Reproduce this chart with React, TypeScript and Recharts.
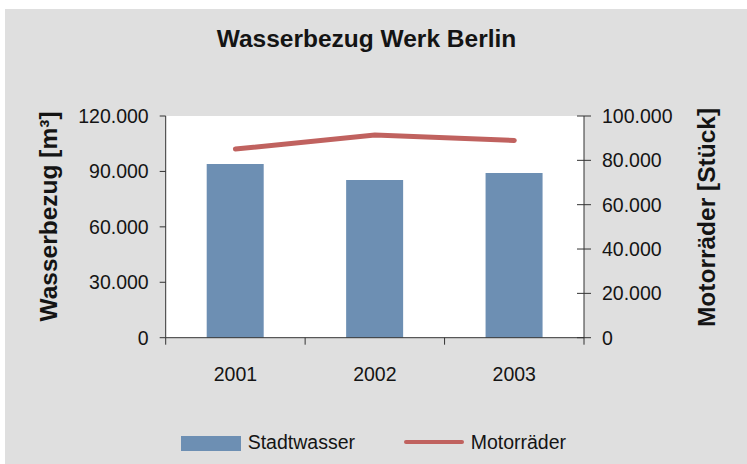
import React from 'react'
import {
  ComposedChart,
  Bar,
  Line,
  XAxis,
  YAxis,
  CartesianGrid,
} from 'recharts'

const YEARS = ['2001', '2002', '2003']
const STADTWASSER = [94000, 85400, 89100]
const MOTORRAEDER = [85100, 91400, 89000]
const LEFT_TICKS = [0, 30000, 60000, 90000, 120000]
const RIGHT_TICKS = [0, 20000, 40000, 60000, 80000, 100000]

const BAR_COLOR = '#6d8fb3'
const LINE_COLOR = '#c0625f'
const AXIS_COLOR = '#333'
const TEXT_COLOR = '#141414'
const FONT = '"Liberation Sans", Arial, sans-serif'

const W = 742
const H = 455
const LEFT_W = 160.7
const RIGHT_W = 163
const PLOT_W = W - LEFT_W - RIGHT_W

const data = YEARS.map((year, i) => ({
  year,
  stadtwasser: STADTWASSER[i],
  motorraeder: MOTORRAEDER[i],
}))

// 120000 -> "120.000"
const fmt = (v: number) => String(v).replace(/\B(?=(\d{3})+(?!\d))/g, '.')

const XTick = (props: any) => {
  const { x, y, payload, index } = props
  const axisY = y - 29
  const band = PLOT_W / YEARS.length
  return (
    <g>
      <line x1={x - band / 2} x2={x - band / 2} y1={axisY} y2={axisY + 7} stroke={AXIS_COLOR} />
      {index === YEARS.length - 1 && (
        <line x1={x + band / 2} x2={x + band / 2} y1={axisY} y2={axisY + 7} stroke={AXIS_COLOR} />
      )}
      <text x={x} y={axisY + 43} textAnchor="middle" fontSize={19.5} fill={TEXT_COLOR}>
        {payload.value}
      </text>
    </g>
  )
}

const RightTick = (props: any) => {
  const { x, y, payload } = props
  const axisX = x - 18
  return (
    <g>
      <line x1={axisX - 7} x2={axisX + 7} y1={y} y2={y} stroke={AXIS_COLOR} />
      <text x={x} y={y} dy="0.355em" textAnchor="start" fontSize={19.5} fill={TEXT_COLOR}>
        {fmt(payload.value)}
      </text>
    </g>
  )
}

const LeftTitle = () => (
  <text
    transform="translate(51.7,207.5) rotate(-90)"
    textAnchor="middle"
    fontSize={24.5}
    fontWeight="bold"
    fill={TEXT_COLOR}
  >
    Wasserbezug [m³]
  </text>
)

const RightTitle = () => (
  <text
    transform="translate(710,208.5) rotate(-90)"
    textAnchor="middle"
    fontSize={24.5}
    fontWeight="bold"
    fill={TEXT_COLOR}
  >
    Motorräder [Stück]
  </text>
)

export default function App() {
  return (
    <div
      style={{
        position: 'absolute',
        left: 5,
        top: 9,
        width: W,
        height: H,
        background: '#dfdfdf',
        fontFamily: FONT,
        color: TEXT_COLOR,
      }}
    >
      <div
        style={{
          position: 'absolute',
          left: 0,
          top: 17.6,
          width: W - 19,
          textAlign: 'center',
          fontSize: 24.5,
          lineHeight: 1,
          fontWeight: 'bold',
        }}
      >
        Wasserbezug Werk Berlin
      </div>
      <ComposedChart
        width={W}
        height={H}
        data={data}
        margin={{ top: 107, right: 0, bottom: 76.3, left: 0 }}
        barSize={57}
      >
        <CartesianGrid horizontal={false} vertical={false} fill="#ffffff" />
        <XAxis
          dataKey="year"
          height={50}
          axisLine={{ stroke: AXIS_COLOR }}
          tickLine={false}
          tickSize={7}
          tickMargin={22}
          tick={<XTick />}
          interval={0}
        />
        <YAxis
          yAxisId="left"
          width={LEFT_W}
          domain={[0, 120000]}
          ticks={LEFT_TICKS}
          tickFormatter={fmt}
          tickSize={6}
          tickMargin={11}
          axisLine={{ stroke: AXIS_COLOR }}
          tickLine={{ stroke: AXIS_COLOR }}
          tick={{ fill: TEXT_COLOR, fontSize: 19.5 }}
          label={<LeftTitle />}
        />
        <YAxis
          yAxisId="right"
          orientation="right"
          width={RIGHT_W}
          domain={[0, 100000]}
          ticks={RIGHT_TICKS}
          tickSize={7}
          tickMargin={11}
          axisLine={{ stroke: AXIS_COLOR }}
          tickLine={false}
          tick={<RightTick />}
          label={<RightTitle />}
        />
        <Bar
          yAxisId="left"
          dataKey="stadtwasser"
          name="Stadtwasser"
          fill={BAR_COLOR}
          isAnimationActive={false}
        />
        <Line
          yAxisId="right"
          dataKey="motorraeder"
          name="Motorräder"
          stroke={LINE_COLOR}
          strokeWidth={5}
          strokeLinecap="round"
          dot={false}
          activeDot={false}
          isAnimationActive={false}
        />
      </ComposedChart>
      <svg
        width={W}
        height={40}
        style={{ position: 'absolute', left: 0, top: 415 }}
      >
        <rect x={176} y={12} width={60} height={15} fill={BAR_COLOR} />
        <text x={242.7} y={25.3} fontSize={19.5} fill={TEXT_COLOR}>
          Stadtwasser
        </text>
        <line x1={401} x2={457} y1={18} y2={18} stroke={LINE_COLOR} strokeWidth={4} strokeLinecap="round" />
        <text x={465.7} y={25.3} fontSize={19.5} fill={TEXT_COLOR}>
          Motorräder
        </text>
      </svg>
    </div>
  )
}
